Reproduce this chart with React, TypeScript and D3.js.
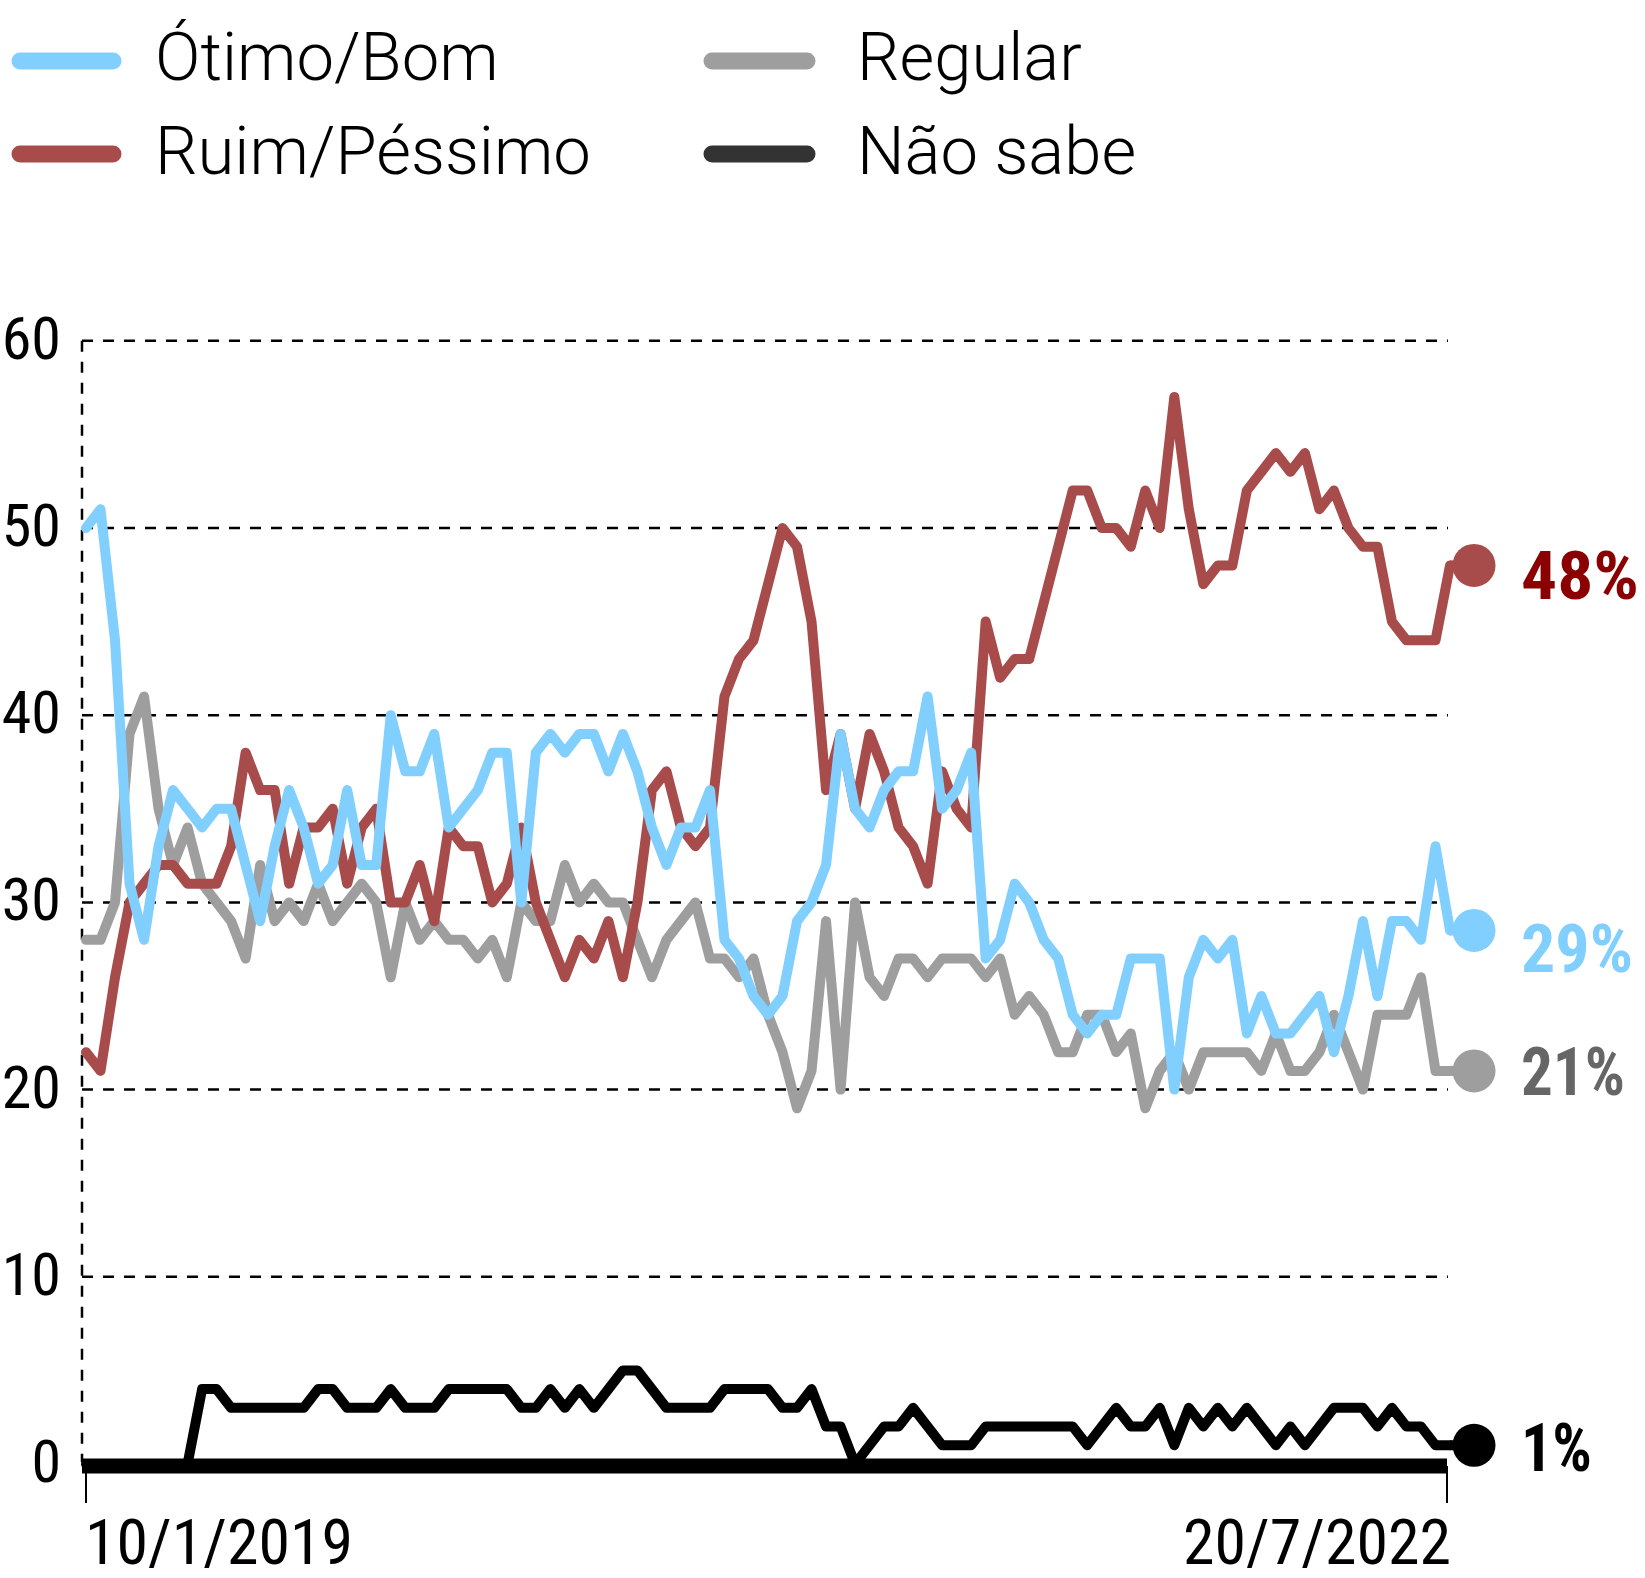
import React, { useEffect } from "react";
import * as d3 from "d3";

// ---------- data ----------
const xTickLabels = ["10/1/2019", "20/7/2022"];
const yTickValues = [0, 10, 20, 30, 40, 50, 60];

const otimoBom = [
  50, 51, 44, 31, 28, 33, 36, 35, 34, 35,
  35, 32, 29, 33, 36, 34, 31, 32, 36, 32,
  32, 40, 37, 37, 39, 34, 35, 36, 38, 38,
  30, 38, 39, 38, 39, 39, 37, 39, 37, 34,
  32, 34, 34, 36, 28, 27, 25, 24, 25, 29,
  30, 32, 39, 35, 34, 36, 37, 37, 41, 35,
  36, 38, 27, 28, 31, 30, 28, 27, 24, 23,
  24, 24, 27, 27, 27, 20, 26, 28, 27, 28,
  23, 25, 23, 23, 24, 25, 22, 25, 29, 25,
  29, 29, 28, 33, 28.5,
];

const ruimPessimo = [
  22, 21, 26, 30, 31, 32, 32, 31, 31, 31,
  33, 38, 36, 36, 31, 34, 34, 35, 31, 34,
  35, 30, 30, 32, 29, 34, 33, 33, 30, 31,
  34, 30, 28, 26, 28, 27, 29, 26, 30, 36,
  37, 34, 33, 34, 41, 43, 44, 47, 50, 49,
  45, 36, 39, 35, 39, 37, 34, 33, 31, 37,
  35, 34, 45, 42, 43, 43, 46, 49, 52, 52,
  50, 50, 49, 52, 50, 57, 51, 47, 48, 48,
  52, 53, 54, 53, 54, 51, 52, 50, 49, 49,
  45, 44, 44, 44, 48,
];

const regular = [
  28, 28, 30, 39, 41, 35, 32, 34, 31, 30,
  29, 27, 32, 29, 30, 29, 31, 29, 30, 31,
  30, 26, 30, 28, 29, 28, 28, 27, 28, 26,
  30, 29, 29, 32, 30, 31, 30, 30, 28, 26,
  28, 29, 30, 27, 27, 26, 27, 24, 22, 19,
  21, 29, 20, 30, 26, 25, 27, 27, 26, 27,
  27, 27, 26, 27, 24, 25, 24, 22, 22, 24,
  24, 22, 23, 19, 21, 22, 20, 22, 22, 22,
  22, 21, 23, 21, 21, 22, 24, 22, 20, 24,
  24, 24, 26, 21, 21,
];

const naoSabe = [
  0, 0, 0, 0, 0, 0, 0, 0, 4, 4,
  3, 3, 3, 3, 3, 3, 4, 4, 3, 3,
  3, 4, 3, 3, 3, 4, 4, 4, 4, 4,
  3, 3, 4, 3, 4, 3, 4, 5, 5, 4,
  3, 3, 3, 3, 4, 4, 4, 4, 3, 3,
  4, 2, 2, 0, 1, 2, 2, 3, 2, 1,
  1, 1, 2, 2, 2, 2, 2, 2, 2, 1,
  2, 3, 2, 2, 3, 1, 3, 2, 3, 2,
  3, 2, 1, 2, 1, 2, 3, 3, 3, 2,
  3, 2, 2, 1, 1,
];

const seriesNames = ["Ótimo/Bom", "Ruim/Péssimo", "Regular", "Não sabe"];
const endLabels = ["29%", "48%", "21%", "1%"];

// ---------- styles ----------
const COLORS = {
  otimo: "#80CFFF",
  ruim: "#A84B4B",
  regular: "#9E9E9E",
  nao: "#000000",
};
const LEGEND_FONT = "Roboto, 'Noto Sans', 'DejaVu Sans', sans-serif";
const NARROW_FONT = "'Liberation Sans Narrow', 'Roboto Condensed', Roboto, sans-serif";

const W = 1645;
const H = 1578;

export default function App() {
  useEffect(() => {
    document.body.style.margin = "0";
    document.body.style.overflow = "hidden";
  }, []);

  const n = otimoBom.length;
  const x = d3.scaleLinear().domain([0, n - 1]).range([86, 1450]);
  const y = d3.scaleLinear().domain([0, 60]).range([1464, 340.8]);
  const gridLeft = 82;
  const gridRight = 1448;

  const line = d3
    .line<number>()
    .x((_, i) => x(i))
    .y((d) => y(d))
    .curve(d3.curveLinear);

  const series = [
    { name: seriesNames[2], values: regular, color: COLORS.regular, label: endLabels[2], labelColor: "#666666", labelDy: 24, labelW: 104 },
    { name: seriesNames[1], values: ruimPessimo, color: COLORS.ruim, label: endLabels[1], labelColor: "#8B0000", labelDy: 34, labelW: 118 },
    { name: seriesNames[0], values: otimoBom, color: COLORS.otimo, label: endLabels[0], labelColor: COLORS.otimo, labelDy: 42, labelW: 112 },
    { name: seriesNames[3], values: naoSabe, color: COLORS.nao, label: endLabels[3], labelColor: "#000000", labelDy: 26, labelW: 71 },
  ];

  const legendItems = [
    { name: seriesNames[0], color: COLORS.otimo, col: 0, row: 0 },
    { name: seriesNames[1], color: COLORS.ruim, col: 0, row: 1 },
    { name: seriesNames[2], color: "#9E9E9E", col: 1, row: 0 },
    { name: seriesNames[3], color: "#333333", col: 1, row: 1 },
  ];
  const legendCols = [
    { x1: 20, x2: 113, tx: 155 },
    { x1: 712, x2: 807, tx: 857 },
  ];
  const legendRows = [{ ly: 61, ty: 80 }, { ly: 154, ty: 174 }];

  const lastX = x(n - 1);
  const dotX = lastX + 24;

  return (
    <svg
      width={W}
      height={H}
      viewBox={`0 0 ${W} ${H}`}
      style={{ position: "absolute", left: 0, top: 0, display: "block", background: "#fff" }}
    >
      <rect x={0} y={0} width={W} height={H} fill="#fff" />

      {/* legend */}
      {legendItems.map((it) => {
        const c = legendCols[it.col];
        const r = legendRows[it.row];
        return (
          <g key={it.name}>
            <line x1={c.x1} x2={c.x2} y1={r.ly} y2={r.ly} stroke={it.color} strokeWidth={17} strokeLinecap="round" />
            <text x={c.tx} y={r.ty} fontFamily={LEGEND_FONT} fontWeight={300} fontSize={67} fill="#000">
              {it.name}
            </text>
          </g>
        );
      })}

      {/* grid */}
      {yTickValues.filter((v) => v > 0).map((v) => (
        <line
          key={"g" + v}
          x1={gridLeft}
          x2={gridRight}
          y1={y(v)}
          y2={y(v)}
          stroke="#000"
          strokeWidth={2.5}
          strokeDasharray="11 10"
        />
      ))}
      <line x1={gridLeft} x2={gridLeft} y1={y(60)} y2={y(0) - 2} stroke="#000" strokeWidth={2.5} strokeDasharray="11 10" />

      {/* y labels */}
      {yTickValues.map((v) => (
        <text
          key={"yl" + v}
          x={61}
          y={y(v) + 18}
          textAnchor="end"
          fontFamily={NARROW_FONT}
          fontSize={60}
          fill="#000"
        >
          {v}
        </text>
      ))}

      {/* baseline axis */}
      <line x1={gridLeft} x2={1447} y1={y(0) + 2} y2={y(0) + 2} stroke="#000" strokeWidth={15} />
      {[0, n - 1].map((i, k) => (
        <g key={"t" + k}>
          <line x1={k === 0 ? x(i) : 1447} x2={k === 0 ? x(i) : 1447} y1={y(0) + 2} y2={1503} stroke="#000" strokeWidth={2} />
          <text
            x={k === 0 ? x(i) - 1 : 1451}
            y={1564}
            textAnchor={k === 0 ? "start" : "end"}
            fontFamily={NARROW_FONT}
            fontSize={63}
            textLength={268}
            lengthAdjust="spacingAndGlyphs"
            fill="#000"
          >
            {xTickLabels[k]}
          </text>
        </g>
      ))}

      {/* series lines */}
      {series.map((s) => (
        <path
          key={s.name}
          d={line(s.values) || ""}
          fill="none"
          stroke={s.color}
          strokeWidth={10}
          strokeLinejoin="round"
          strokeLinecap="round"
        />
      ))}

      {/* end dots + labels */}
      {series.map((s) => {
        const v = s.values[n - 1];
        return (
          <g key={"end" + s.name}>
            <line x1={lastX} x2={dotX} y1={y(v)} y2={y(v)} stroke={s.color} strokeWidth={10} />
            <circle cx={dotX} cy={y(v)} r={21.5} fill={s.color} />
            <text
              x={dotX + 47}
              y={y(v) + s.labelDy}
              fontFamily={NARROW_FONT}
              fontWeight={700}
              fontSize={66}
              textLength={s.labelW}
              lengthAdjust="spacingAndGlyphs"
              fill={s.labelColor}
            >
              {s.label}
            </text>
          </g>
        );
      })}
    </svg>
  );
}
